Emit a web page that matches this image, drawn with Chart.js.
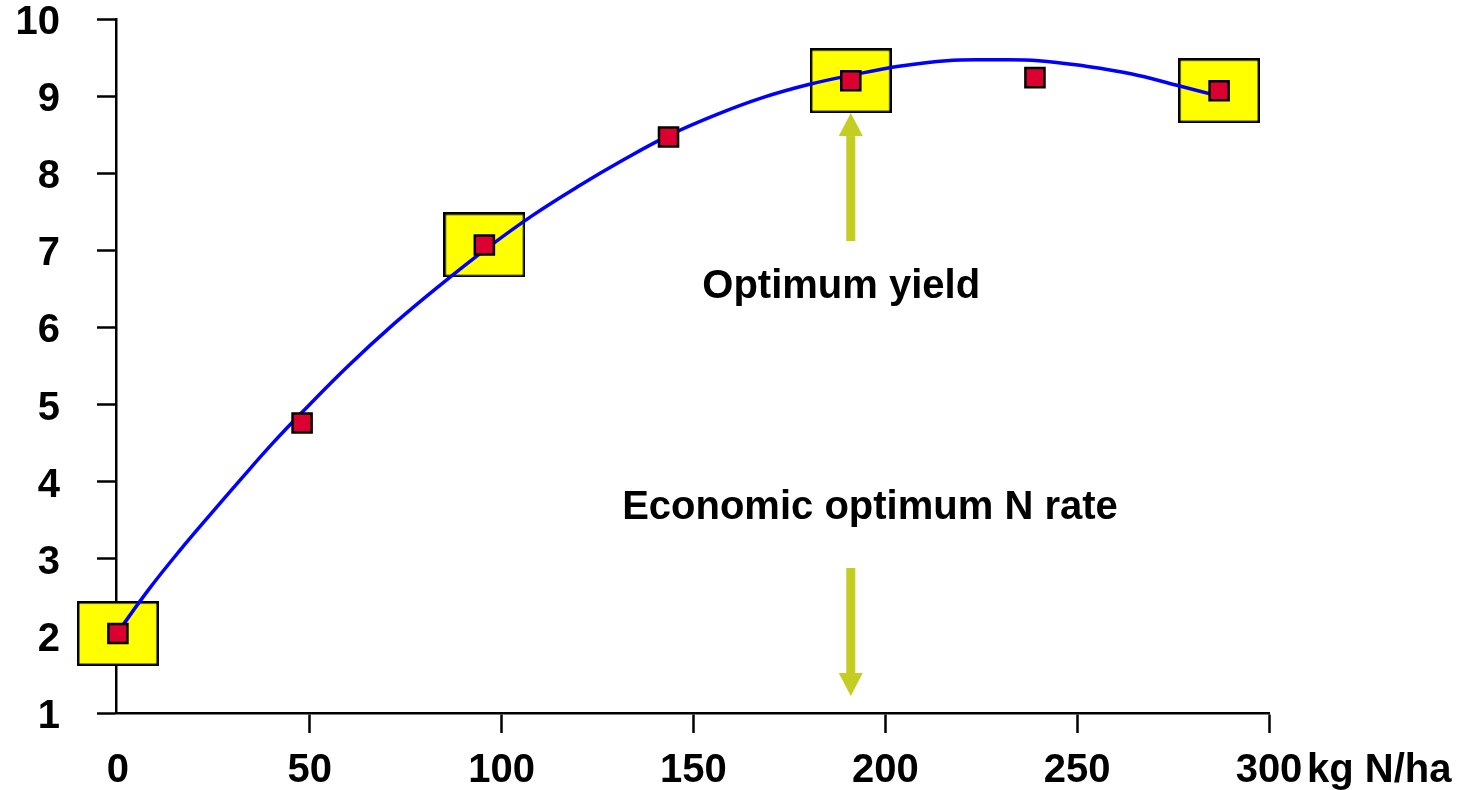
<!DOCTYPE html>
<html>
<head>
<meta charset="utf-8">
<script src="https://cdn.jsdelivr.net/npm/chart.js@4/dist/chart.umd.min.js"></script>
<style>
  html, body { margin: 0; padding: 0; background: #fff; }
  #wrap { width: 1460px; height: 790px; }
</style>
</head>
<body>
<div id="wrap"><canvas id="yieldChart" width="1460" height="790"></canvas></div>
<script>
// ===== DATA =====
const trialN = [0, 48, 95.5, 143.5, 191, 239, 287];
const trialYield = [2.03, 4.76, 7.07, 8.47, 9.2, 9.24, 9.07];

// highlighted rates (yellow boxes)
const boxN = [0, 95.5, 191, 287];
const boxYield = [2.03, 7.07, 9.2, 9.07];

// fitted response curve
const curveN = [0, 8, 16, 24, 32, 40, 48, 60, 72, 84, 96, 108, 120, 132, 144, 156, 168, 180, 192, 204, 216, 228, 240, 252, 264, 276, 287];
const curveYield = [2.05, 2.6, 3.1, 3.57, 4.03, 4.48, 4.9, 5.5, 6.05, 6.55, 7.02, 7.45, 7.83, 8.18, 8.5, 8.76, 8.98, 9.15, 9.28, 9.39, 9.46, 9.47, 9.46, 9.39, 9.29, 9.14, 9.0];

const xTicks = [0, 50, 100, 150, 200, 250, 300];
const yTicks = [1, 2, 3, 4, 5, 6, 7, 8, 9, 10];
const xUnit = 'kg N/ha';

// ===== ANNOTATIONS =====
const arrows = [
    { n: 191, from: 7.12, to: 8.78 },
    { n: 191, from: 2.88, to: 1.22 }
];
const notes = [
    { text: 'Optimum yield', n: 188.5, y: 6.53 },
    { text: 'Economic optimum N rate', n: 196, y: 3.66 }
];

const FONT = "'Liberation Sans', Arial, sans-serif";
const ARROW_COLOR = '#C3CD22';

// yellow box used as point style
function makeBox() {
    const c = document.createElement('canvas');
    c.width = 82;
    c.height = 65;
    const g = c.getContext('2d');
    g.fillStyle = '#FFFF00';
    g.fillRect(0, 0, 82, 65);
    g.strokeStyle = '#000';
    g.lineWidth = 2.5;
    g.strokeRect(1.25, 1.25, 79.5, 62.5);
    return c;
}

const toPts = (xs, ys) => xs.map((x, i) => ({ x, y: ys[i] }));

// ===== ARROWS + TEXT PLUGIN =====
const notesPlugin = {
    id: 'notes',
    afterDatasetsDraw(chart) {
        const { ctx, scales: { x, y } } = chart;
        ctx.save();
        ctx.fillStyle = ARROW_COLOR;
        arrows.forEach(a => {
            const px = x.getPixelForValue(a.n);
            const y0 = y.getPixelForValue(a.from);
            const y1 = y.getPixelForValue(a.to);
            const dir = y1 < y0 ? 1 : -1;
            const headLen = 23, headHalf = 12, shaft = 4.5;
            const yBase = y1 + dir * headLen;
            ctx.fillRect(px - shaft, Math.min(y0, yBase), shaft * 2, Math.abs(yBase - y0));
            ctx.beginPath();
            ctx.moveTo(px, y1);
            ctx.lineTo(px - headHalf, yBase);
            ctx.lineTo(px + headHalf, yBase);
            ctx.closePath();
            ctx.fill();
        });

        ctx.fillStyle = '#000';
        ctx.font = 'bold 40px ' + FONT;
        ctx.textAlign = 'center';
        ctx.textBaseline = 'middle';
        notes.forEach(t => {
            ctx.fillText(t.text, x.getPixelForValue(t.n), y.getPixelForValue(t.y));
        });

        // unit after the last x tick label
        ctx.textAlign = 'left';
        ctx.fillText(xUnit, x.getPixelForValue(300) + 38, x.top + 58);
        ctx.restore();
    }
};

// ===== CHART =====
new Chart(document.getElementById('yieldChart'), {
    type: 'scatter',
    data: {
        datasets: [
            {
                label: 'Trial',
                data: toPts(trialN, trialYield),
                pointStyle: 'rect',
                pointRadius: 13.5,
                pointHoverRadius: 13.5,
                backgroundColor: '#DC0030',
                borderColor: '#000',
                borderWidth: 2.5,
                clip: false
            },
            {
                label: 'Curve',
                data: toPts(curveN, curveYield),
                showLine: true,
                pointRadius: 0,
                borderColor: '#0000FF',
                borderWidth: 3.5,
                tension: 0.4,
                clip: false
            },
            {
                label: 'Boxes',
                data: toPts(boxN, boxYield),
                pointStyle: makeBox(),
                clip: false
            }
        ]
    },
    options: {
        responsive: false,
        animation: false,
        events: [],
        layout: { padding: { top: 19, right: 191, left: 0, bottom: 0 } },
        plugins: {
            legend: { display: false },
            tooltip: { enabled: false }
        },
        scales: {
            x: {
                type: 'linear',
                min: -0.5,
                max: 300,
                z: 1,
                afterBuildTicks: s => { s.ticks = xTicks.map(v => ({ value: v })); },
                afterFit: s => { s.height = 77; s.paddingLeft = 0; s.paddingRight = 0; },
                border: { display: true, color: '#000', width: 2.5 },
                grid: {
                    display: true,
                    drawOnChartArea: false,
                    drawTicks: true,
                    tickLength: 20,
                    tickWidth: 2.5,
                    tickColor: c => (c.tick && c.tick.value === 0) ? 'rgba(0,0,0,0)' : '#000'
                },
                ticks: {
                    color: '#000',
                    padding: 18,
                    maxRotation: 0,
                    autoSkip: false,
                    font: { family: FONT, size: 40, weight: 'bold', lineHeight: 1 }
                }
            },
            y: {
                type: 'linear',
                min: 1,
                max: 10,
                z: 1,
                afterBuildTicks: s => { s.ticks = yTicks.map(v => ({ value: v })); },
                afterFit: s => { s.width = 116; s.paddingTop = 0; s.paddingBottom = 0; },
                border: { display: true, color: '#000', width: 2.5 },
                grid: {
                    display: true,
                    drawOnChartArea: false,
                    drawTicks: true,
                    tickLength: 19,
                    tickWidth: 2.5,
                    tickColor: '#000'
                },
                ticks: {
                    color: '#000',
                    padding: 37,
                    labelOffset: 4,
                    autoSkip: false,
                    font: { family: FONT, size: 40, weight: 'bold', lineHeight: 1 }
                }
            }
        }
    },
    plugins: [notesPlugin]
});
</script>
</body>
</html>
